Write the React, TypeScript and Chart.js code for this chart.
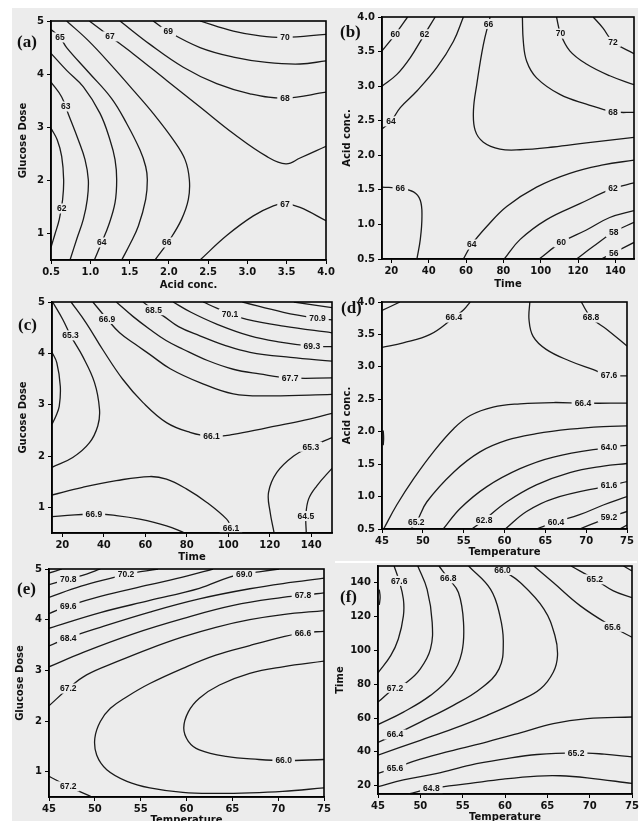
import React, { useEffect, useRef } from "react";
import { Chart, registerables } from "chart.js";

Chart.register(...registerables);

type Pt = [number, number];
type Lbl = [string, number, number];

const BG = "#ececec";
const LINE = "#1a1a1a";
const LABEL_FONT = 'bold 8.5px "Liberation Sans", Arial, sans-serif';

// ---------------- Panel (a): Glucose Dose vs Acid conc. ----------------
const aXTicks = [0.5, 1.0, 1.5, 2.0, 2.5, 3.0, 3.5, 4.0];
const aYTicks = [1, 2, 3, 4, 5];
const a62: Pt[] = [[0.5, 2.98], [0.58, 2.76], [0.636, 2.45], [0.661, 2.01], [0.648, 1.64], [0.606, 1.27], [0.551, 0.99], [0.5, 0.74]];
const a63: Pt[] = [[0.5, 3.85], [0.636, 3.57], [0.72, 3.25], [0.848, 2.76], [0.933, 2.39], [0.975, 2.01], [0.962, 1.64], [0.912, 1.27], [0.827, 0.89], [0.742, 0.5]];
const a64: Pt[] = [[0.5, 4.39], [0.699, 4.07], [0.912, 3.76], [1.124, 3.26], [1.251, 2.76], [1.315, 2.39], [1.336, 2.01], [1.315, 1.58], [1.23, 1.14], [1.145, 0.83], [1.052, 0.5]];
const a65: Pt[] = [[0.5, 4.84], [0.615, 4.69], [0.699, 4.5], [0.975, 4.04], [1.272, 3.54], [1.463, 3.07], [1.633, 2.57], [1.705, 2.26], [1.726, 2.01], [1.705, 1.64], [1.612, 1.14], [1.506, 0.8], [1.4, 0.5]];
const a66: Pt[] = [[0.699, 5], [0.975, 4.63], [1.272, 4.16], [1.569, 3.66], [1.8, 3.26], [2.057, 2.76], [2.206, 2.39], [2.261, 2.01], [2.248, 1.64], [2.163, 1.27], [2.015, 0.89], [1.824, 0.5]];
const a67u: Pt[] = [[0.988, 5], [1.251, 4.71], [1.548, 4.38], [1.972, 3.88], [2.397, 3.38], [2.821, 2.88], [3.245, 2.45], [3.49, 2.31], [3.67, 2.42], [4, 2.64]];
const a67l: Pt[] = [[2.397, 0.5], [2.736, 0.96], [3.075, 1.33], [3.33, 1.52], [3.478, 1.56], [3.67, 1.49], [4, 1.24]];
const a68: Pt[] = [[1.378, 5], [1.76, 4.56], [2.184, 4.13], [2.609, 3.82], [3.033, 3.63], [3.478, 3.55], [4, 3.66]];
const a69: Pt[] = [[1.8, 5], [1.993, 4.8], [2.397, 4.5], [2.821, 4.32], [3.245, 4.22], [3.67, 4.19], [4, 4.25]];
const a70: Pt[] = [[2.397, 5], [2.821, 4.81], [3.16, 4.72], [3.478, 4.69], [4, 4.75]];
const aLabels: Lbl[] = [["65", 0.615, 4.69], ["67", 1.251, 4.71], ["69", 1.993, 4.8], ["70", 3.478, 4.69], ["68", 3.478, 3.55], ["63", 0.687, 3.39], ["62", 0.636, 1.47], ["64", 1.145, 0.83], ["66", 1.972, 0.83], ["67", 3.478, 1.55]];

// ---------------- Panel (b): Acid conc. vs Time ----------------
const bXTicks = [20, 40, 60, 80, 100, 120, 140];
const bYTicks = [0.5, 1.0, 1.5, 2.0, 2.5, 3.0, 3.5, 4.0];
const b60a: Pt[] = [[28.7, 4], [22.1, 3.75], [15, 3.51]];
const b62a: Pt[] = [[43.5, 4], [37.8, 3.75], [30.1, 3.41], [23, 3.17], [15, 3.0]];
const b64a: Pt[] = [[58.6, 4], [53.3, 3.65], [44.4, 3.27], [33.7, 2.93], [24.8, 2.69], [19.8, 2.49], [15, 2.38]];
const b66u: Pt[] = [[72.9, 4], [69.3, 3.6], [65.8, 3.03], [64, 2.65], [64.9, 2.36], [69.3, 2.19], [78.2, 2.09], [88.9, 2.08], [106.7, 2.12], [124.5, 2.18], [150, 2.26]];
const b66l: Pt[] = [[15, 1.54], [24.8, 1.52], [31.9, 1.47], [35.5, 1.35], [36.4, 1.11], [35.5, 0.78], [33.7, 0.5]];
const b64b: Pt[] = [[58.6, 0.5], [63.1, 0.71], [71.1, 0.97], [81.8, 1.26], [97.8, 1.54], [115.6, 1.74], [133.4, 1.86], [150, 1.93]];
const b62b: Pt[] = [[80.5, 0.5], [88.9, 0.78], [103.2, 1.07], [121, 1.3], [138.8, 1.52], [150, 1.6]];
const b60b: Pt[] = [[99.2, 0.5], [111, 0.74], [124.5, 0.92], [137, 1.1], [150, 1.2]];
const b58: Pt[] = [[119.2, 0.5], [128.1, 0.68], [139.1, 0.89], [150, 1.03]];
const b56: Pt[] = [[132.5, 0.5], [139.1, 0.59], [150, 0.74]];
const b68: Pt[] = [[90.2, 4], [90.7, 3.65], [92.5, 3.36], [97.8, 3.12], [110.3, 2.88], [124.5, 2.74], [138.8, 2.63], [150, 2.62]];
const b70: Pt[] = [[108.5, 4], [110.6, 3.76], [115.6, 3.51], [124.5, 3.32], [137, 3.15], [150, 3.02]];
const b72: Pt[] = [[128.1, 4], [133.4, 3.84], [138.8, 3.64], [150, 3.47]];
const bLabels: Lbl[] = [["60", 22.1, 3.75], ["62", 37.8, 3.75], ["64", 19.8, 2.49], ["66", 72, 3.9], ["70", 110.6, 3.76], ["72", 138.8, 3.64], ["68", 138.8, 2.63], ["66", 24.8, 1.52], ["62", 138.8, 1.52], ["64", 63.1, 0.71], ["60", 111, 0.74], ["58", 139.1, 0.89], ["56", 139.1, 0.59]];

// ---------------- Panel (c): Glucose Dose vs Time ----------------
const cXTicks = [20, 40, 60, 80, 100, 120, 140];
const cYTicks = [1, 2, 3, 4, 5];
const c653u: Pt[] = [[15.3, 5], [20.2, 4.66], [23.9, 4.35], [29.8, 3.94], [35.5, 3.43], [37.9, 2.91], [37.1, 2.59], [33.1, 2.26], [25, 1.97], [15, 1.78]];
const c645l: Pt[] = [[15, 4.02], [17.3, 3.82], [19, 3.36], [18.5, 2.97], [16.9, 2.78], [15, 2.62]];
const c661u: Pt[] = [[24.2, 5], [31.5, 4.59], [39.5, 4.07], [49.2, 3.49], [58.9, 3.04], [70.2, 2.65], [81.5, 2.46], [91.9, 2.38], [102.4, 2.42], [118.5, 2.55], [134.7, 2.68], [150, 2.83]];
const c669u: Pt[] = [[34.7, 5], [41.5, 4.67], [47.6, 4.4], [55, 4.18], [62.1, 3.98], [72, 3.7], [86.3, 3.43], [102.4, 3.21], [120, 3.17], [150, 3.2]];
const c677: Pt[] = [[46, 5], [54, 4.72], [62.1, 4.47], [70, 4.25], [78.2, 4.08], [90, 3.86], [102.4, 3.69], [115, 3.6], [129.8, 3.52], [150, 3.52]];
const c685: Pt[] = [[58.9, 5], [64, 4.84], [68.6, 4.73], [76, 4.52], [86.3, 4.34], [98, 4.16], [110.5, 4.02], [130, 3.92], [150, 3.85]];
const c693: Pt[] = [[73.4, 5], [82, 4.8], [94.4, 4.57], [110.5, 4.34], [125, 4.22], [140.3, 4.14], [150, 4.13]];
const c701: Pt[] = [[87.9, 5], [95, 4.87], [100.8, 4.77], [108.9, 4.66], [126.6, 4.53], [150, 4.4]];
const c709: Pt[] = [[106.8, 5], [126.6, 4.8], [143, 4.68], [150, 4.65]];
const c717: Pt[] = [[131.6, 5], [150, 4.89]];
const c661l: Pt[] = [[15, 1.24], [29.8, 1.39], [46, 1.52], [62.1, 1.6], [70.2, 1.55], [79.8, 1.36], [89.5, 1.1], [99.2, 0.77], [101.3, 0.62], [103.2, 0.5]];
const c669l: Pt[] = [[15, 0.82], [35.2, 0.87], [46, 0.84], [57.3, 0.77], [70.2, 0.64], [79, 0.5]];
const c653r: Pt[] = [[122.1, 0.5], [120.2, 0.9], [119.4, 1.29], [123.4, 1.68], [131.5, 2], [139.8, 2.18], [150, 2.36]];
const c645r: Pt[] = [[137.6, 0.5], [137.4, 0.83], [138.7, 1.16], [142.7, 1.42], [150, 1.76]];
const cLabels: Lbl[] = [["65.3", 23.9, 4.35], ["66.9", 41.5, 4.67], ["68.5", 64, 4.84], ["70.1", 100.8, 4.77], ["70.9", 143, 4.68], ["69.3", 140.3, 4.14], ["67.7", 129.8, 3.52], ["66.1", 91.9, 2.38], ["65.3", 139.8, 2.18], ["64.5", 137.4, 0.83], ["66.9", 35.2, 0.87], ["66.1", 101.3, 0.6]];

// ---------------- Panel (d): Acid conc. vs Temperature ----------------
const dXTicks = [45, 50, 55, 60, 65, 70, 75];
const dYTicks = [0.5, 1.0, 1.5, 2.0, 2.5, 3.0, 3.5, 4.0];
const d664u: Pt[] = [[45, 3.3], [47.6, 3.37], [50.9, 3.5], [53.8, 3.76], [55, 3.88], [55.8, 4]];
const d676c: Pt[] = [[45, 3.87], [47.2, 4]];
const d676: Pt[] = [[63.1, 4], [63, 3.73], [63.5, 3.47], [65.1, 3.27], [68, 3.09], [70.8, 2.96], [72.8, 2.87], [75, 2.86]];
const d688: Pt[] = [[69.4, 4], [70.6, 3.76], [72.5, 3.58], [75, 3.32]];
const d652e: Pt[] = [[45.15, 2.02], [45.2, 1.9], [45.15, 1.79]];
const d664m: Pt[] = [[45.2, 0.5], [46.8, 0.87], [48.9, 1.28], [51.3, 1.69], [53.8, 2.05], [55.8, 2.25], [58.6, 2.38], [61.9, 2.43], [66, 2.45], [69.6, 2.44], [75, 2.44]];
const d652: Pt[] = [[48.5, 0.5], [49.2, 0.6], [50.5, 0.92], [53.8, 1.38], [57, 1.69], [60.3, 1.87], [63.9, 1.97], [68, 2.04], [72.1, 2.08], [75, 2.09]];
const d640: Pt[] = [[52.5, 0.5], [54.6, 0.82], [57.8, 1.15], [61.9, 1.43], [66, 1.61], [72.8, 1.76], [75, 1.79]];
const d628: Pt[] = [[56, 0.5], [57.5, 0.64], [60.3, 0.92], [63.9, 1.18], [68, 1.37], [72.1, 1.47], [75, 1.51]];
const d616: Pt[] = [[60.1, 0.5], [62.7, 0.77], [66, 0.97], [72.8, 1.17], [75, 1.23]];
const d604: Pt[] = [[63.9, 0.5], [66.3, 0.61], [69.2, 0.72], [72.1, 0.87], [75, 1.0]];
const d592: Pt[] = [[69.2, 0.5], [72.8, 0.68], [75, 0.77]];
const d580: Pt[] = [[74.1, 0.5], [75, 0.56]];
const dLabels: Lbl[] = [["66.4", 53.8, 3.76], ["68.8", 70.6, 3.76], ["67.6", 72.8, 2.87], ["66.4", 69.6, 2.44], ["64.0", 72.8, 1.76], ["61.6", 72.8, 1.17], ["59.2", 72.8, 0.68], ["65.2", 49.2, 0.6], ["62.8", 57.5, 0.64], ["60.4", 66.3, 0.61]];

// ---------------- Panel (e): Glucose Dose vs Temperature ----------------
const eXTicks = [45, 50, 55, 60, 65, 70, 75];
const eYTicks = [1, 2, 3, 4, 5];
const e714: Pt[] = [[45, 4.92], [46.4, 5]];
const e708: Pt[] = [[45, 4.69], [47.1, 4.8], [49.1, 4.9], [50.6, 5]];
const e702: Pt[] = [[45, 4.44], [48.5, 4.66], [52.2, 4.84], [53.4, 4.9], [56.9, 5]];
const e696: Pt[] = [[45, 4.12], [47.1, 4.27], [50.6, 4.46], [56, 4.69], [60, 4.86], [62.9, 5]];
const e690: Pt[] = [[45, 3.83], [50.6, 4.14], [56, 4.38], [61.4, 4.62], [64.7, 4.84], [66.3, 4.9], [68.1, 4.95], [70.1, 5]];
const e684: Pt[] = [[45, 3.48], [47.1, 3.64], [50.6, 3.85], [56, 4.15], [61.4, 4.41], [66.9, 4.61], [71.6, 4.74], [75, 4.82]];
const e678: Pt[] = [[45, 3.07], [48.8, 3.36], [54.2, 3.72], [59.6, 4.02], [65.1, 4.28], [70.5, 4.44], [72.7, 4.48], [75, 4.53]];
const e672u: Pt[] = [[45, 2.3], [47.1, 2.64], [49.1, 2.91], [52.4, 3.17], [56, 3.43], [59.6, 3.66], [63.2, 3.85], [66.9, 4.0], [70.5, 4.1], [75, 4.18]];
const e666: Pt[] = [[75, 3.77], [72.7, 3.74], [70.5, 3.66], [66.9, 3.49], [63.2, 3.3], [59.6, 3.04], [56, 2.74], [53.5, 2.48], [51.7, 2.25], [50.6, 1.99], [50, 1.66], [50.2, 1.33], [51.3, 1.04], [53.5, 0.81], [56, 0.68], [59.6, 0.59], [63.2, 0.57], [66.9, 0.58], [70.5, 0.61], [75, 0.68]];
const e660: Pt[] = [[75, 3.18], [70.5, 3.07], [66.9, 2.94], [63.6, 2.71], [61.4, 2.45], [60.2, 2.18], [59.7, 1.86], [60.2, 1.6], [61.4, 1.43], [64.3, 1.3], [67.9, 1.24], [70.6, 1.22], [75, 1.24]];
const e672l: Pt[] = [[45, 0.91], [47.1, 0.71], [49.7, 0.5]];
const eLabels: Lbl[] = [["70.8", 47.1, 4.8], ["70.2", 53.4, 4.9], ["69.0", 66.3, 4.9], ["69.6", 47.1, 4.27], ["67.8", 72.7, 4.48], ["68.4", 47.1, 3.64], ["66.6", 72.7, 3.74], ["67.2", 47.1, 2.64], ["66.0", 70.6, 1.22], ["67.2", 47.1, 0.71]];

// ---------------- Panel (f): Time vs Temperature ----------------
const fXTicks = [45, 50, 55, 60, 65, 70, 75];
const fYTicks = [20, 40, 60, 80, 100, 120, 140];
const f680e: Pt[] = [[45.15, 136], [45.25, 131.5], [45.15, 127]];
const f676: Pt[] = [[46.9, 150], [47.5, 141.2], [48, 130.3], [48, 120.5], [47.4, 106.8], [46.5, 96.9], [45, 86.7]];
const f672: Pt[] = [[49.7, 150], [50.8, 136.2], [51.4, 116.6], [51.2, 100.9], [50, 89.1], [48.4, 81.2], [47, 77.9], [45, 69.4]];
const f668: Pt[] = [[52.2, 150], [53.3, 142.7], [54.5, 134.3], [55.1, 116.6], [54.9, 98.9], [53.7, 85.2], [51.2, 73.4], [48, 63.5], [45, 56.1]];
const f664: Pt[] = [[55.7, 150], [58.3, 136.2], [59.4, 120.5], [59.8, 104.8], [59.3, 89.1], [57.1, 77.3], [53.9, 67.5], [50, 57.6], [47, 50.2], [45, 45.5]];
const f660: Pt[] = [[58.9, 150], [59.7, 147.6], [61.8, 140.2], [64.6, 124.5], [65.9, 108.7], [66.2, 96.9], [65.7, 87.1], [64.2, 77.3], [61.8, 70.4], [57.9, 61.6], [53.9, 53.7], [50, 46.8], [45, 38]];
const f656u: Pt[] = [[63.4, 150], [65.7, 140.2], [68.9, 126.4], [72.7, 114], [75, 107.8]];
const f652u: Pt[] = [[67.8, 150], [70.6, 142.1], [72.8, 135.3], [75, 131.3]];
const f648u: Pt[] = [[74, 150], [75, 147.1]];
const f656l: Pt[] = [[45, 27.2], [47, 30.5], [50, 35.6], [53.9, 40.9], [57.9, 45.9], [61.8, 51.2], [65.7, 56.7], [69.7, 59.6], [75, 60.6]];
const f652l: Pt[] = [[45, 19.3], [48, 23.3], [52, 27.2], [55.9, 32.1], [59.8, 35.6], [63.8, 38.4], [68.4, 39.4], [71.7, 38.6], [75, 37]];
const f648l: Pt[] = [[48.6, 15], [51.3, 18.3], [55.9, 21.3], [59.8, 23.8], [63.8, 25.6], [66.5, 25.8], [69.7, 24.6], [75, 21.3]];
const fLabels: Lbl[] = [["67.6", 47.5, 141.2], ["66.8", 53.3, 142.7], ["66.0", 59.7, 147.6], ["65.2", 70.6, 142.1], ["65.6", 72.7, 114], ["67.2", 47, 77.9], ["66.4", 47, 50.2], ["65.6", 47, 30.5], ["65.2", 68.4, 39.4], ["64.8", 51.3, 18.3]];

type PanelDef = {
  letter: string;
  plot: [number, number, number, number];
  xRange: [number, number];
  yRange: [number, number];
  xTicks: number[];
  yTicks: number[];
  xDec: number;
  yDec: number;
  xTitle: string;
  yTitle: string;
  yTitleGap: number;
  xTitleGap: number;
  letterPos: [number, number];
  lines: Pt[][];
  labels: Lbl[];
};

const panels: PanelDef[] = [
  {
    letter: "(a)", plot: [51, 20, 326, 260], xRange: [0.5, 4.0], yRange: [0.5, 5],
    xTicks: aXTicks, yTicks: aYTicks, xDec: 1, yDec: 0, xTitle: "Acid conc.", yTitle: "Glucose Dose",
    yTitleGap: 28, xTitleGap: 25, letterPos: [17, 47],
    lines: [a62, a63, a64, a65, a66, a67u, a67l, a68, a69, a70], labels: aLabels,
  },
  {
    letter: "(b)", plot: [382, 16, 634, 259], xRange: [15, 150], yRange: [0.5, 4.0],
    xTicks: bXTicks, yTicks: bYTicks, xDec: 0, yDec: 1, xTitle: "Time", yTitle: "Acid conc.",
    yTitleGap: 35, xTitleGap: 25, letterPos: [340, 37],
    lines: [b60a, b62a, b64a, b66u, b66l, b64b, b62b, b60b, b58, b56, b68, b70, b72], labels: bLabels,
  },
  {
    letter: "(c)", plot: [52, 301, 332, 533], xRange: [15, 150], yRange: [0.5, 5],
    xTicks: cXTicks, yTicks: cYTicks, xDec: 0, yDec: 0, xTitle: "Time", yTitle: "Gucose Dose",
    yTitleGap: 29, xTitleGap: 24, letterPos: [18, 330],
    lines: [c653u, c645l, c661u, c669u, c677, c685, c693, c701, c709, c717, c661l, c669l, c653r, c645r], labels: cLabels,
  },
  {
    letter: "(d)", plot: [382, 301, 627, 529], xRange: [45, 75], yRange: [0.5, 4.0],
    xTicks: dXTicks, yTicks: dYTicks, xDec: 0, yDec: 1, xTitle: "Temperature", yTitle: "Acid conc.",
    yTitleGap: 35, xTitleGap: 23, letterPos: [341, 313],
    lines: [d664u, d676c, d676, d688, d652e, d664m, d652, d640, d628, d616, d604, d592, d580], labels: dLabels,
  },
  {
    letter: "(e)", plot: [49, 568, 324, 797], xRange: [45, 75], yRange: [0.5, 5],
    xTicks: eXTicks, yTicks: eYTicks, xDec: 0, yDec: 0, xTitle: "Temperature", yTitle: "Glucose Dose",
    yTitleGap: 29, xTitleGap: 23, letterPos: [17, 594],
    lines: [e714, e708, e702, e696, e690, e684, e678, e672u, e666, e660, e672l], labels: eLabels,
  },
  {
    letter: "(f)", plot: [378, 565, 632, 794], xRange: [45, 75], yRange: [15, 150],
    xTicks: fXTicks, yTicks: fYTicks, xDec: 0, yDec: 0, xTitle: "Temperature", yTitle: "Time",
    yTitleGap: 38, xTitleGap: 23, letterPos: [340, 602],
    lines: [f680e, f676, f672, f668, f664, f660, f656u, f652u, f648u, f656l, f652l, f648l], labels: fLabels,
  },
];

const TICK_FONT = { family: '"DejaVu Sans", sans-serif', size: 10, weight: "bold" as const };
const TITLE_FONT = { family: '"DejaVu Sans", sans-serif', size: 10, weight: "bold" as const, lineHeight: 1.2 };

function Panel({ def }: { def: PanelDef }) {
  const ref = useRef<HTMLCanvasElement | null>(null);
  const [L, T, R, B] = def.plot;
  const wy = def.yTitleGap + 6;
  const hx = def.xTitleGap + 6;
  const padT = 8;
  const padR = 14;
  const left = L - wy;
  const top = T - padT;
  const width = R - L + wy + padR;
  const height = B - T + padT + hx;

  useEffect(() => {
    const cv = ref.current;
    if (!cv) return;
    const overlay = {
      id: "contourOverlay",
      afterDatasetsDraw(chart: any) {
        const { ctx, chartArea, scales } = chart;
        ctx.save();
        ctx.beginPath();
        ctx.rect(chartArea.left, chartArea.top, chartArea.right - chartArea.left, chartArea.bottom - chartArea.top);
        ctx.clip();
        ctx.font = LABEL_FONT;
        ctx.textAlign = "center";
        ctx.textBaseline = "middle";
        for (const [t, x, y] of def.labels) {
          const px = scales.x.getPixelForValue(x);
          const py = scales.y.getPixelForValue(y);
          const w = ctx.measureText(t).width;
          ctx.fillStyle = BG;
          ctx.fillRect(px - w / 2 - 3, py - 5, w + 6, 10);
          ctx.fillStyle = "#111";
          ctx.fillText(t, px, py + 0.5);
        }
        ctx.restore();
      },
      afterDraw(chart: any) {
        const { ctx, chartArea } = chart;
        ctx.save();
        ctx.strokeStyle = "#000";
        ctx.lineWidth = 1.6;
        ctx.strokeRect(chartArea.left, chartArea.top, chartArea.right - chartArea.left, chartArea.bottom - chartArea.top);
        ctx.restore();
      },
    };

    const chart = new Chart(cv, {
      type: "scatter",
      data: {
        datasets: def.lines.map((pts) => ({
          data: pts.map(([x, y]) => ({ x, y })),
          showLine: true,
          borderColor: LINE,
          borderWidth: 1.3,
          pointRadius: 0,
          pointHoverRadius: 0,
          tension: 0.4,
          fill: false,
        })),
      },
      options: {
        animation: false,
        responsive: false,
        maintainAspectRatio: false,
        events: [],
        layout: { padding: { left: 0, top: padT, right: padR, bottom: 0 } },
        plugins: { legend: { display: false }, tooltip: { enabled: false } },
        scales: {
          x: {
            type: "linear",
            min: def.xRange[0],
            max: def.xRange[1],
            afterFit: (s: any) => { s.height = hx; },
            afterBuildTicks: (s: any) => { s.ticks = def.xTicks.map((v) => ({ value: v })); },
            ticks: {
              autoSkip: false, maxRotation: 0, minRotation: 0, padding: 2, color: "#111", font: TICK_FONT,
              callback: (v: any) => Number(v).toFixed(def.xDec),
            },
            grid: { drawOnChartArea: false, drawTicks: true, tickLength: 4, color: "#000", lineWidth: 1 },
            border: { display: true, color: "#000", width: 1.5 },
            title: { display: true, text: def.xTitle, color: "#111", font: TITLE_FONT, padding: 0 },
          },
          y: {
            type: "linear",
            min: def.yRange[0],
            max: def.yRange[1],
            afterFit: (s: any) => { s.width = wy; },
            afterBuildTicks: (s: any) => { s.ticks = def.yTicks.map((v) => ({ value: v })); },
            ticks: {
              autoSkip: false, padding: 3, color: "#111", font: TICK_FONT,
              callback: (v: any) => Number(v).toFixed(def.yDec),
            },
            grid: { drawOnChartArea: false, drawTicks: true, tickLength: 4, color: "#000", lineWidth: 1 },
            border: { display: true, color: "#000", width: 1.5 },
            title: { display: true, text: def.yTitle, color: "#111", font: TITLE_FONT, padding: 0 },
          },
        },
      } as any,
      plugins: [overlay],
    });
    return () => chart.destroy();
  }, []);

  return (
    <canvas
      ref={ref}
      width={width}
      height={height}
      style={{ position: "absolute", left, top, width, height }}
    />
  );
}

export default function App() {
  return (
    <div style={{ position: "absolute", left: 0, top: 0, width: 640, height: 821, overflow: "hidden", background: "#fff" }}>
      <div style={{ position: "absolute", left: 12, top: 8, width: 626, height: 813, background: BG }} />
      <div style={{ position: "absolute", left: 335, top: 561, width: 302, height: 2, background: "#fff" }} />
      {panels.map((p, i) => (
        <Panel key={"p" + i} def={p} />
      ))}
      {panels.map((p, i) => (
        <div
          key={"l" + i}
          style={{
            position: "absolute",
            left: p.letterPos[0],
            top: p.letterPos[1] - 14,
            font: 'bold 17px "Liberation Serif", "Times New Roman", serif',
            lineHeight: "17px",
            color: "#111",
            whiteSpace: "nowrap",
          }}
        >
          {p.letter}
        </div>
      ))}
    </div>
  );
}
